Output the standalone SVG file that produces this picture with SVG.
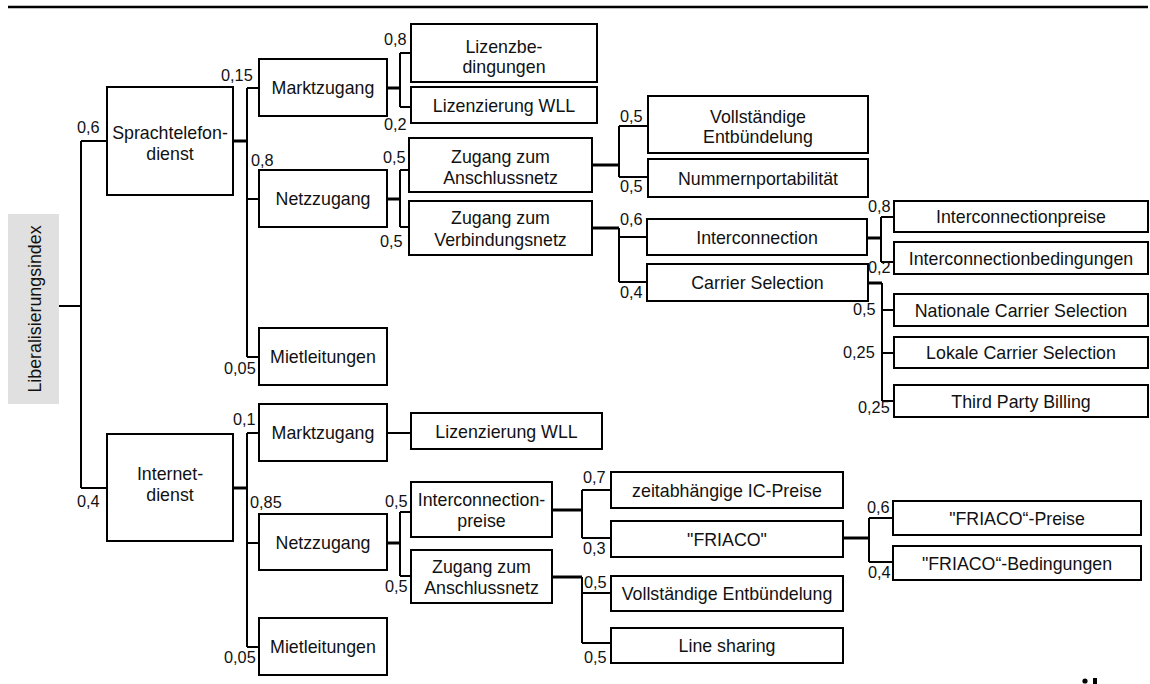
<svg xmlns="http://www.w3.org/2000/svg" width="1150" height="684" viewBox="0 0 1150 684">
  <style>
    .box rect { fill: #fff; stroke: #000; stroke-width: 2; }
    text { font-family: "Liberation Sans", Arial, sans-serif; fill: #111; }
    .box text { font-size: 17.8px; text-anchor: middle; }
    .w { font-size: 16.3px; }
    .conn path { stroke: #000; stroke-width: 2; fill: none; }
    .conn path.stub { stroke-width: 3; }
  </style>
  <rect width="1150" height="684" fill="#fff"/>
  <!-- header rule -->
  <line x1="8" y1="7" x2="1148" y2="7" stroke="#000" stroke-width="2.5"/>

  <!-- connectors -->
  <g class="conn">
    <path d="M59,306 H81 M81,141 V488 M81,141 H107 M81,488 H107"/>
    <path class="stub" d="M233,141 H247"/>
    <path d="M247,88 V357 M247,88 H259 M247,199 H259 M247,357 H259"/>
    <path class="stub" d="M387,88 H400"/>
    <path d="M400,53 V107 M400,53 H411 M400,107 H411"/>
    <path class="stub" d="M387,199 H400"/>
    <path d="M400,170 V227 M400,170 H409 M400,227 H409"/>
    <path class="stub" d="M592,165 H619"/>
    <path d="M619,126 V177 M619,126 H648 M619,177 H648"/>
    <path class="stub" d="M592,228 H619"/>
    <path d="M619,228 V282 M619,237 H647 M619,282 H647"/>
    <path class="stub" d="M867,238 H881"/>
    <path d="M881,217 V262 M881,217 H894 M881,262 H894"/>
    <path class="stub" d="M868,283 H882"/>
    <path d="M882,283 V401 M882,310 H894 M882,353 H894 M882,401 H894"/>
    <path class="stub" d="M233,488 H247"/>
    <path d="M247,433 V647 M247,433 H259 M247,543 H259 M247,647 H259"/>
    <path d="M387,433 H411"/>
    <path class="stub" d="M387,543 H400"/>
    <path d="M400,512 V576 M400,512 H411 M400,576 H411"/>
    <path class="stub" d="M552,510 H582"/>
    <path d="M582,490 V538 M582,490 H611 M582,538 H611"/>
    <path class="stub" d="M552,577 H582"/>
    <path d="M582,577 V643 M582,593 H611 M582,643 H611"/>
    <path class="stub" d="M843,538 H869"/>
    <path d="M869,518 V562 M869,518 H893 M869,562 H893"/>
  </g>

  <!-- root -->
  <g id="root">
    <rect x="8" y="214" width="51" height="190" fill="#e0e0e0"/>
    <text x="41" y="309" font-size="17.8" fill="#333" text-anchor="middle" transform="rotate(-90 41 309)">Liberalisierungsindex</text>
  </g>

  <!-- level 1 -->
  <g id="sprach" class="box"><rect x="107" y="87" width="126" height="108"/><text x="170" y="139">Sprachtelefon-</text><text x="170" y="160">dienst</text></g>
  <g id="internet" class="box"><rect x="107" y="434" width="126" height="107"/><text x="170" y="480">Internet-</text><text x="170" y="501">dienst</text></g>

  <!-- level 2 -->
  <g id="s-markt" class="box"><rect x="259" y="59" width="128" height="57"/><text x="323" y="94">Marktzugang</text></g>
  <g id="s-netz" class="box"><rect x="259" y="170" width="128" height="57"/><text x="323" y="205">Netzzugang</text></g>
  <g id="s-miet" class="box"><rect x="259" y="328" width="128" height="57"/><text x="323" y="363">Mietleitungen</text></g>
  <g id="i-markt" class="box"><rect x="259" y="404" width="128" height="57"/><text x="323" y="439">Marktzugang</text></g>
  <g id="i-netz" class="box"><rect x="259" y="514" width="128" height="56"/><text x="323" y="549">Netzzugang</text></g>
  <g id="i-miet" class="box"><rect x="259" y="618" width="128" height="57"/><text x="323" y="653">Mietleitungen</text></g>

  <!-- level 3 -->
  <g id="lizbed" class="box"><rect x="411" y="24" width="186" height="58"/><text x="504" y="53">Lizenzbe-</text><text x="504" y="73">dingungen</text></g>
  <g id="s-wll" class="box"><rect x="411" y="87" width="186" height="36"/><text x="504" y="111.5">Lizenzierung WLL</text></g>
  <g id="s-ansch" class="box"><rect x="409" y="138" width="183" height="54"/><text x="500.5" y="163">Zugang zum</text><text x="500.5" y="184">Anschlussnetz</text></g>
  <g id="s-verb" class="box"><rect x="409" y="201" width="183" height="54"/><text x="500.5" y="224">Zugang zum</text><text x="500.5" y="246">Verbindungsnetz</text></g>
  <g id="i-wll" class="box"><rect x="411" y="413" width="191" height="36"/><text x="506.5" y="437.5">Lizenzierung WLL</text></g>
  <g id="i-icp" class="box"><rect x="411" y="482" width="141" height="55"/><text x="481.5" y="506">Interconnection-</text><text x="481.5" y="527">preise</text></g>
  <g id="i-ansch" class="box"><rect x="411" y="550" width="141" height="53"/><text x="481.5" y="573">Zugang zum</text><text x="481.5" y="594">Anschlussnetz</text></g>

  <!-- level 4 -->
  <g id="s-vollst" class="box"><rect x="648" y="96" width="220" height="57"/><text x="758" y="123">Vollständige</text><text x="758" y="143">Entbündelung</text></g>
  <g id="nummer" class="box"><rect x="648" y="159" width="220" height="38"/><text x="758" y="184.5">Nummernportabilität</text></g>
  <g id="interconn" class="box"><rect x="647" y="219" width="220" height="36"/><text x="757" y="243.5">Interconnection</text></g>
  <g id="carrier" class="box"><rect x="647" y="264" width="221" height="37"/><text x="757.5" y="289">Carrier Selection</text></g>
  <g id="zeit" class="box"><rect x="611" y="472" width="232" height="36"/><text x="727" y="496.5">zeitabhängige IC-Preise</text></g>
  <g id="friaco" class="box"><rect x="611" y="521" width="232" height="36"/><text x="727" y="545.5">"FRIACO"</text></g>
  <g id="i-vollst" class="box"><rect x="611" y="576" width="232" height="35"/><text x="727" y="600">Vollständige Entbündelung</text></g>
  <g id="linesh" class="box"><rect x="611" y="628" width="232" height="35"/><text x="727" y="652">Line sharing</text></g>

  <!-- level 5 -->
  <g id="icpreise" class="box"><rect x="894" y="201" width="254" height="31"/><text x="1021" y="223">Interconnectionpreise</text></g>
  <g id="icbed" class="box"><rect x="894" y="242" width="254" height="32"/><text x="1021" y="264.5">Interconnectionbedingungen</text></g>
  <g id="natcs" class="box"><rect x="894" y="294" width="254" height="32"/><text x="1021" y="316.5">Nationale Carrier Selection</text></g>
  <g id="lokcs" class="box"><rect x="894" y="337" width="254" height="31"/><text x="1021" y="359">Lokale Carrier Selection</text></g>
  <g id="tpb" class="box"><rect x="894" y="385" width="254" height="32"/><text x="1021" y="407.5">Third Party Billing</text></g>
  <g id="fpreise" class="box"><rect x="893" y="501" width="248" height="34"/><text x="1017" y="524.5">"FRIACO“-Preise</text></g>
  <g id="fbed" class="box"><rect x="893" y="546" width="248" height="34"/><text x="1017" y="569.5">"FRIACO“-Bedingungen</text></g>

  <!-- weights -->
  <g class="w">
    <text x="77" y="133">0,6</text>
    <text x="77" y="507">0,4</text>
    <text x="221" y="81">0,15</text>
    <text x="251" y="166">0,8</text>
    <text x="224" y="374">0,05</text>
    <text x="233" y="425">0,1</text>
    <text x="250" y="508">0,85</text>
    <text x="224" y="663">0,05</text>
    <text x="384" y="45">0,8</text>
    <text x="384" y="130">0,2</text>
    <text x="383" y="163">0,5</text>
    <text x="380" y="247">0,5</text>
    <text x="620" y="122">0,5</text>
    <text x="620" y="192">0,5</text>
    <text x="620" y="225">0,6</text>
    <text x="620" y="298">0,4</text>
    <text x="868" y="212">0,8</text>
    <text x="868" y="273">0,2</text>
    <text x="853" y="315">0,5</text>
    <text x="843" y="358">0,25</text>
    <text x="858" y="413">0,25</text>
    <text x="385" y="507">0,5</text>
    <text x="385" y="592">0,5</text>
    <text x="583" y="483">0,7</text>
    <text x="583" y="554">0,3</text>
    <text x="584" y="588">0,5</text>
    <text x="584" y="663">0,5</text>
    <text x="867" y="513">0,6</text>
    <text x="868" y="578">0,4</text>
  </g>

  <!-- clipped mark at lower edge -->
  <circle cx="1085" cy="681" r="2.6" fill="#000"/>
  <rect x="1093" y="678" width="4" height="6" fill="#000"/>
</svg>
